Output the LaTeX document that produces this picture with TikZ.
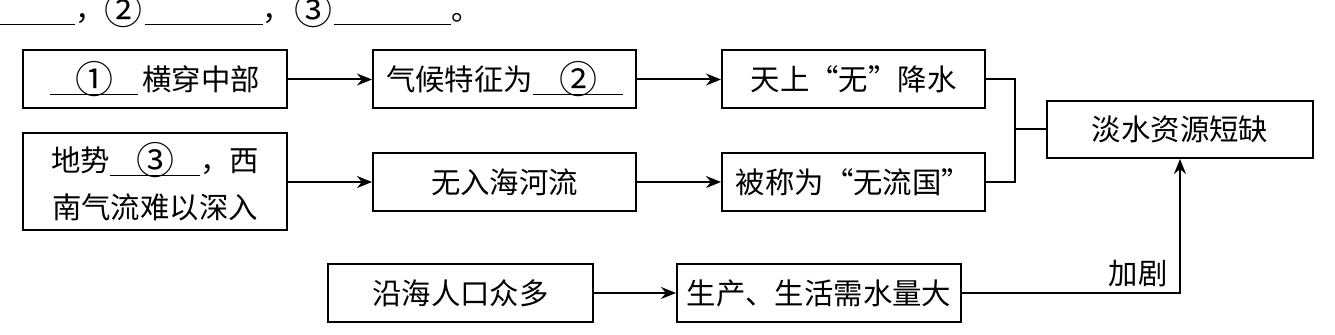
\documentclass[tikz,border=0pt]{standalone}
\usepackage{fontspec}
\newfontfamily\cjk{Noto Sans CJK SC}
\usetikzlibrary{arrows.meta}
\newcommand{\blankline}[2]{\makebox[0pt][l]{\rule[-2pt]{#1}{0.6pt}}\makebox[#1]{#2}}
\newcommand{\circnum}[1]{\raisebox{-1.6pt}{\fontsize{19pt}{19pt}\selectfont #1}}
\newcommand{\cqL}{\makebox[1em][r]{“}}
\newcommand{\cqR}{\makebox[1em][l]{”}}
\tikzset{
  txt/.style={font=\cjk\fontsize{14.7pt}{23.5pt}\selectfont, inner sep=0pt},
  box/.style={txt, draw, line width=1pt, minimum height=29pt},
  conn/.style={line width=1pt},
  arr/.style={conn, -{Stealth[length=7.5pt,width=6pt]}}
}
\begin{document}
\begin{tikzpicture}[x=0.5pt,y=-0.5pt]
\useasboundingbox (0,0) rectangle (1335,335);
\clip (0,0) rectangle (1335,335);
% top line
\node[txt, anchor=base west] (top) at (0,21) {\blankline{37.5pt}{}，\circnum{②}\hspace{1pt}\blankline{59pt}{}，\hspace{1pt}\circnum{③}\hspace{1pt}\blankline{58.5pt}{}。};
% row 1
\node[box, minimum width=132pt] (A) at (155,79.5) {\blankline{44pt}{\circnum{①}}\hspace{2pt}横穿中部};
\node[box, minimum width=131.5pt] (B) at (504.5,79.5) {气候特征为\blankline{45pt}{\circnum{②}}};
\node[box, minimum width=131.5pt] (C) at (853.5,79.5) {天上\cqL 无\cqR 降水};
% row 2
\node[box, minimum width=132pt, minimum height=48.5pt, align=center] (D) at (155,182) {地势\blankline{45pt}{\circnum{③}}，西\\南气流难以深入};
\node[box, minimum width=131.5pt] (E) at (504.5,182) {无入海河流};
\node[box, minimum width=131.5pt] (F) at (853.5,182) {被称为\cqL 无流国\cqR};
% result
\node[box, minimum width=133pt, minimum height=28.5pt] (G) at (1180,129.5) {淡水资源短缺};
% row 3
\node[box, minimum width=132.5pt] (H) at (460.5,293) {沿海人口众多};
\node[box, minimum width=142pt] (I) at (819,293) {生产、生活需水量大};
% connectors
\draw[arr] (A) -- (B);
\draw[arr] (B) -- (C);
\draw[arr] (D) -- (E);
\draw[arr] (E) -- (F);
\draw[arr] (H) -- (I);
\coordinate (j) at (1015,129.5);
\draw[conn] (C.east) -| (j) |- (F.east);
\draw[conn] (j) -- (G.west);
\coordinate (k) at (1180,293);
\draw[arr] (I.east) -| (G.south);
\node[txt, anchor=south east] (lab) at ([xshift=-6pt,yshift=3pt]k) {加剧};
\end{tikzpicture}
\end{document}
